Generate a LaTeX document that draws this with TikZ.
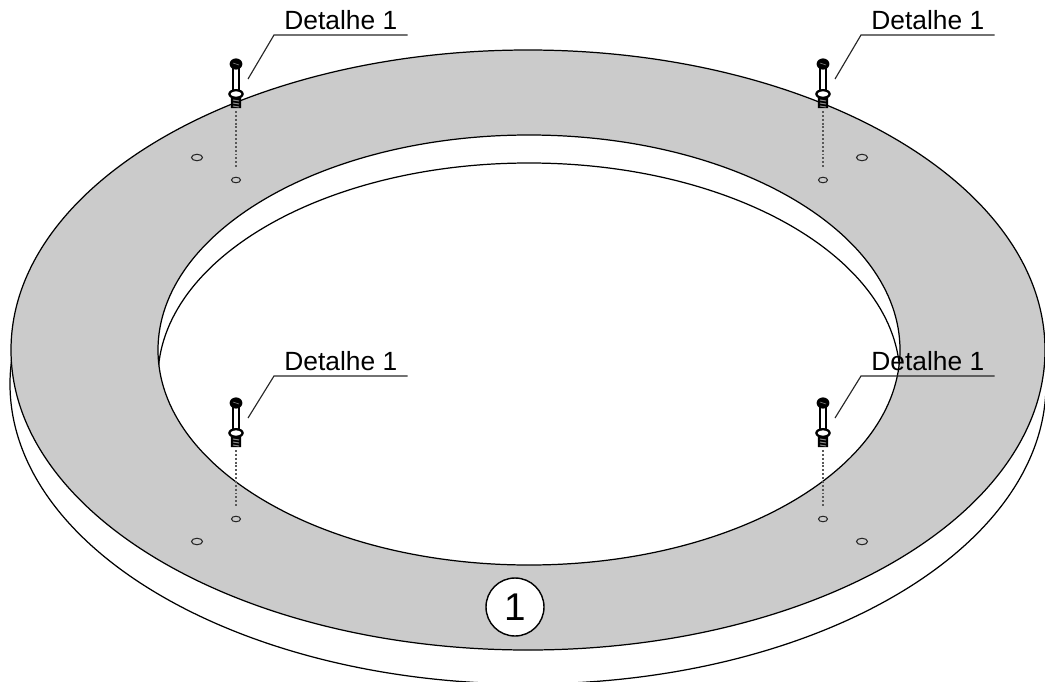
\documentclass[tikz,border=0pt]{standalone}
\usepackage{fontspec}
\setmainfont{Liberation Sans}
\usepackage{tikz}
\usetikzlibrary{shapes.geometric}
\definecolor{ringgray}{HTML}{CBCBCB}
\tikzset{
  edge/.style={draw=black,line width=0.7pt},
  detail/.style={inner sep=0pt,minimum width=2.66cm,text height=0.4cm,text depth=0.1cm,
    font=\fontsize{15pt}{16pt}\selectfont},
  leader/.style={draw=black!85,line width=0.65pt},
  holesmall/.style={draw=black!85,ellipse,inner sep=0pt,line width=0.6pt,minimum width=0.18cm,minimum height=0.11cm},
  holelarge/.style={draw=black!85,ellipse,inner sep=0pt,line width=0.6pt,minimum width=0.22cm,minimum height=0.13cm},
  axisline/.style={draw=black!65,line width=0.7pt,dash pattern=on 1.1pt off 1.1pt,shorten >=0.16cm,shorten <=0.06cm},
  balloon/.style={draw,circle,fill=white,line width=0.8pt,minimum size=1.16cm,inner sep=0pt,font=\fontsize{22pt}{24pt}\selectfont},
  screwbolt/.pic={
    \draw[fill=white,line width=0.9pt] (-2.8,3) rectangle (2.8,28);
    \fill[black] (0,0) ellipse [x radius=6.4,y radius=5.6];
    \draw[black!45,line width=0.3pt] (-3,-1) -- (3,1);
    \fill[black] (-5.2,32) rectangle (5.2,44) arc (0:-180:5.2 and 1);
    \foreach \yy in {36,39,42} \draw[black!45,line width=0.6pt] (-3,\yy) -- (3,\yy+1);
    \draw[fill=white,line width=1.3pt] (0,30) ellipse [x radius=6.6,y radius=3.8];
    \coordinate (-end) at (0,44);
  }
}
\begin{document}
\begin{tikzpicture}[x=0.02cm,y=-0.02cm]
\useasboundingbox (0,0) rectangle (1045,683);
\clip (0,0) rectangle (1045,681);
% lower edges of the ring
\draw[edge] (528,384) ellipse [x radius=518,y radius=300];
\draw[edge] (529,378) ellipse [x radius=371,y radius=215];
% top face
\path[edge,fill=ringgray,even odd rule] (528,350) ellipse [x radius=517,y radius=300]
      (529,350) ellipse [x radius=371,y radius=215];
% holes
\node[holelarge] (bigA) at (197,157.5) {};
\node[holelarge] (bigB) at (862,157.5) {};
\node[holelarge] (bigC) at (197,541.5) {};
\node[holelarge] (bigD) at (862,541.5) {};
\node[holesmall] (holeA) at (236,180) {};
\node[holesmall] (holeB) at (823,180) {};
\node[holesmall] (holeC) at (236,519) {};
\node[holesmall] (holeD) at (823,519) {};
% screws
\pic (screwA) at (236,64) {screwbolt};
\pic (screwB) at (823,64) {screwbolt};
\pic (screwC) at (236,403) {screwbolt};
\pic (screwD) at (823,403) {screwbolt};
\draw[axisline] (screwA-end) -- (holeA);
\draw[axisline] (screwB-end) -- (holeB);
\draw[axisline] (screwC-end) -- (holeC);
\draw[axisline] (screwD-end) -- (holeD);
% labels
\node[detail,anchor=south west] (detA) at (274,35) {Detalhe 1};
\node[detail,anchor=south west] (detB) at (861,35) {Detalhe 1};
\node[detail,anchor=south west] (detC) at (274,376) {Detalhe 1};
\node[detail,anchor=south west] (detD) at (861,376) {Detalhe 1};
\coordinate (tipA) at (248,79);
\coordinate (tipB) at (835,79);
\coordinate (tipC) at (248,418);
\coordinate (tipD) at (835,418);
\draw[leader] (tipA) -- (detA.south west) -- (detA.south east);
\draw[leader] (tipB) -- (detB.south west) -- (detB.south east);
\draw[leader] (tipC) -- (detC.south west) -- (detC.south east);
\draw[leader] (tipD) -- (detD.south west) -- (detD.south east);
\node[balloon] (partOne) at (515,607) {1};
\end{tikzpicture}
\end{document}
